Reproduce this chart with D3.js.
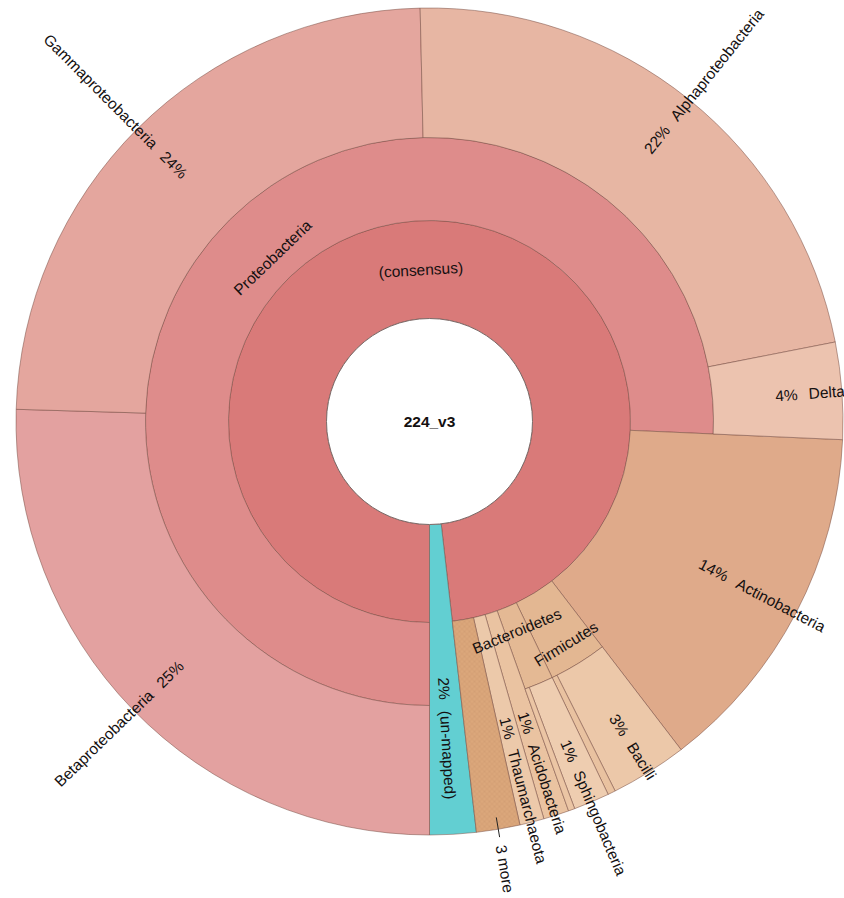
<!DOCTYPE html>
<html>
<head>
<meta charset="utf-8">
<script src="https://cdn.jsdelivr.net/npm/d3@7"></script>
<style>
  html, body { margin: 0; padding: 0; background: #fff; overflow: hidden; }
  svg { display: block; }
  text { font-family: "Liberation Sans", Arial, Helvetica, sans-serif; fill: #141010; }
</style>
</head>
<body>
<svg id="chart" width="844" height="898"></svg>
<script>
// ---- data (percent of all reads) ----
const sampleName = "224_v3";

const rootNames  = ["(consensus)", "(un-mapped)"];
const unmappedValue = 1.81;

const phylumNames  = ["Proteobacteria", "Actinobacteria", "Firmicutes", "Bacteroidetes",
                      "Acidobacteria", "Thaumarchaeota"];
// phyla without class breakdown carry their own value (null = sum of classes)
const phylumValues = [null, 13.89, null, null, 1.0, 0.95];

const classNames   = ["Betaproteobacteria", "Gammaproteobacteria", "Alphaproteobacteria",
                      "Deltaproteobacteria", "Bacilli", "Clostridia",
                      "Sphingobacteria", "Flavobacteriia"];
const classPhylum  = ["Proteobacteria", "Proteobacteria", "Proteobacteria",
                      "Proteobacteria", "Firmicutes", "Firmicutes",
                      "Bacteroidetes", "Bacteroidetes"];
const classValues  = [25.47, 24.17, 22.28, 3.78, 3.0, 0.3, 1.4, 0.25];

// remaining minor phyla collapsed into one wedge
const moreCount = 3;
const moreValue = 1.7;

// ---- colours ----
const palette = {
  "224_v3": "#ffffff",
  "(consensus)": "#d97a79",
  "(un-mapped)": "#62cfd2",
  "Proteobacteria": "#de8c8b",
  "Betaproteobacteria": "#e3a1a0",
  "Gammaproteobacteria": "#e4a69e",
  "Alphaproteobacteria": "#e7b6a3",
  "Deltaproteobacteria": "#ecc3af",
  "Actinobacteria": "#dfaa8a",
  "Firmicutes": "#e3b792",
  "Bacilli": "#ecc8a9",
  "Clostridia": "#e9c2a0",
  "Bacteroidetes": "#e4b994",
  "Sphingobacteria": "#eecdb0",
  "Flavobacteriia": "#ebc5a4",
  "Acidobacteria": "#eac3a1",
  "Thaumarchaeota": "#ecc9aa"
};

// ---- build the tree ----
const phylumNodes = phylumNames.map((p, i) => {
  const kids = classNames
    .map((c, j) => ({ name: c, value: classValues[j], parent: classPhylum[j] }))
    .filter(c => c.parent === p)
    .map(c => ({ name: c.name, value: c.value }));
  return kids.length ? { name: p, children: kids } : { name: p, value: phylumValues[i] };
});
phylumNodes.push({ name: moreCount + " more", value: moreValue, more: true });

const treeData = {
  name: sampleName,
  children: [
    { name: rootNames[0], children: phylumNodes },
    { name: rootNames[1], value: unmappedValue }
  ]
};

const root = d3.hierarchy(treeData).sum(d => d.value || 0);
d3.partition().size([2 * Math.PI, 1])(root);

// ---- geometry ----
const cx = 429.5, cy = 421.5;
const ringR = [103, 201, 284, 413.5];
const R = ringR[3];
const offset = Math.PI;             // first wedge starts at six o'clock

const innerR = d => ringR[d.depth - 1];
const outerR = d => d.children ? ringR[d.depth] : R;
const a0 = d => d.x0 + offset;
const a1 = d => d.x1 + offset;
const mid = d => (a0(d) + a1(d)) / 2;

const svg = d3.select("#chart");

// crosshatch for collapsed wedges
const defs = svg.append("defs");
const pat = defs.append("pattern")
  .attr("id", "hatch").attr("patternUnits", "userSpaceOnUse")
  .attr("width", 5).attr("height", 5);
pat.append("rect").attr("width", 5).attr("height", 5).attr("fill", "#dba77b");
pat.append("path").attr("d", "M0,0L5,5M5,0L0,5")
  .attr("stroke", "#c9946a").attr("stroke-width", 0.6).attr("opacity", 0.7);

const g = svg.append("g").attr("transform", `translate(${cx},${cy})`);

const arc = d3.arc()
  .startAngle(a0).endAngle(a1)
  .innerRadius(innerR).outerRadius(outerR);

const nodes = root.descendants().filter(d => d.depth > 0);

g.selectAll("path.wedge")
  .data(nodes)
  .join("path")
  .attr("class", "wedge")
  .attr("d", arc)
  .attr("fill", d => d.data.more ? "url(#hatch)" : palette[d.data.name])
  .attr("stroke", "rgba(115,72,62,0.55)")
  .attr("stroke-width", 0.9);

// centre hole
g.append("circle").attr("r", ringR[0])
  .attr("fill", "#fff").attr("stroke", "#7d6a68").attr("stroke-width", 1);

g.append("text")
  .attr("text-anchor", "middle").attr("dominant-baseline", "central")
  .attr("font-weight", "bold").attr("font-size", 15.5)
  .text(root.data.name);

// ---- labels ----
const fs = 15.5;
const minArc = 10;                  // wedges narrower than this (px) get no label
const deg = r => r * 180 / Math.PI;
const polar = (r, a) => [r * Math.sin(a), -r * Math.cos(a)];
const pct = d => Math.round(d.value / root.value * 100) + "%";
const arcWidth = d => (d.x1 - d.x0) * (innerR(d) + outerR(d)) / 2;

// tangential labels for wedges that have children
const tangentialInset = 26;
const tangentialBump = { "Firmicutes": 34 };

nodes.filter(d => d.children).forEach(d => {
  const a = mid(d);
  const r = d.depth === 1 ? (innerR(d) + outerR(d)) / 2
                          : innerR(d) + tangentialInset + (tangentialBump[d.data.name] || 0);
  const [x, y] = polar(r, a);
  let rot = deg(a) % 360;
  if (rot > 90 && rot < 270) rot -= 180;
  g.append("text")
    .attr("transform", `translate(${x},${y}) rotate(${rot})`)
    .attr("text-anchor", "middle").attr("dominant-baseline", "central")
    .attr("font-size", fs)
    .text(d.data.name);
});

// radial labels for leaves
nodes.filter(d => !d.children && !d.data.more && arcWidth(d) >= minArc).forEach(d => {
  const a = mid(d);
  const r0 = (innerR(d) + outerR(d)) / 2 - 2;
  const [x, y] = polar(r0, a);
  const ad = deg(a) % 360;
  const right = ad < 180;
  const t = g.append("text")
    .attr("transform", `translate(${x},${y}) rotate(${right ? ad - 90 : ad + 90})`)
    .attr("text-anchor", right ? "start" : "end")
    .attr("dominant-baseline", "central")
    .attr("font-size", fs);
  if (right) {
    t.append("tspan").text(pct(d));
    t.append("tspan").attr("dx", 11).text(d.data.name);
  } else {
    t.append("tspan").text(d.data.name);
    t.append("tspan").attr("dx", 11).text(pct(d));
  }
});

// leader + label for the collapsed wedge
nodes.filter(d => d.data.more).forEach(d => {
  const a = mid(d);
  const [x1, y1] = polar(R - 12, a);
  const [x2, y2] = polar(R + 8, a);
  g.append("line").attr("x1", x1).attr("y1", y1).attr("x2", x2).attr("y2", y2)
    .attr("stroke", "#222").attr("stroke-width", 1);
  const [x, y] = polar(R + 16, a);
  const ad = deg(a) % 360;
  g.append("text")
    .attr("transform", `translate(${x},${y}) rotate(${ad - 90})`)
    .attr("text-anchor", "start").attr("dominant-baseline", "central")
    .attr("font-size", fs)
    .text(d.data.name);
});
</script>
</body>
</html>
